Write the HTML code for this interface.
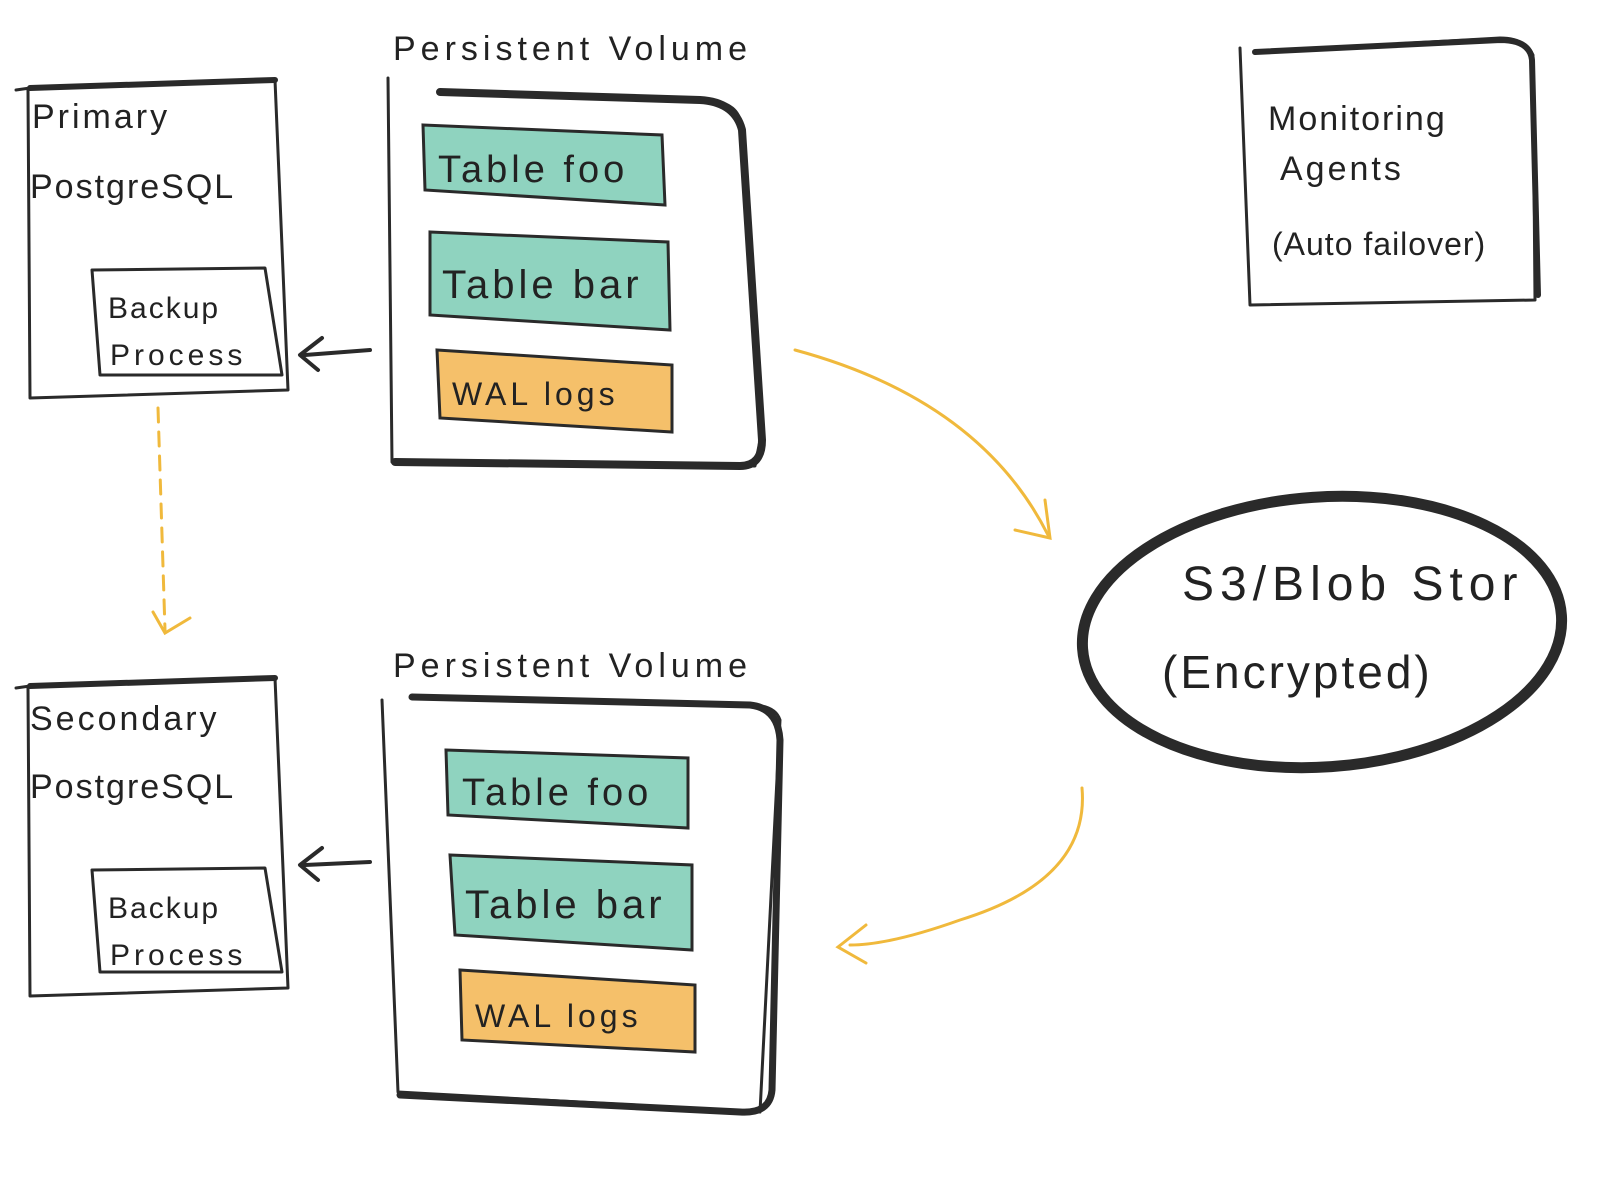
<!DOCTYPE html>
<html><head><meta charset="utf-8"><style>
html,body{margin:0;padding:0;background:#fff;}
svg{display:block}
text{font-family:"Liberation Sans",sans-serif;fill:#222;}
</style></head><body>
<svg width="1600" height="1200" viewBox="0 0 1600 1200" xmlns="http://www.w3.org/2000/svg">
<g fill="none" stroke="#2a2a2a" stroke-linecap="round" stroke-linejoin="round">
<!-- Primary box -->
<path d="M16 90 L30 88 L275 80 L288 390 L30 398 L28 90" stroke-width="3"/>
<path d="M30 88 L275 80" stroke-width="6"/>
<path d="M92 270 L265 268 L282 375 L100 375 Z" stroke-width="3"/>
<!-- Secondary box -->
<path d="M16 688 L30 686 L275 678 L288 988 L30 996 L28 688" stroke-width="3"/>
<path d="M30 686 L275 678" stroke-width="6"/>
<path d="M92 870 L265 868 L282 972 L100 972 Z" stroke-width="3"/>
<!-- PV top -->
<path d="M388 78 L392 462 L755 466 L762 430 L740 120 Q735 100 700 100 L440 92" stroke-width="3"/>
<path d="M440 92 L700 100 Q735 102 742 130 L762 440 Q762 466 740 466 L395 462" stroke-width="8"/>
<!-- PV bottom -->
<path d="M382 700 L398 1092 L760 1112 L780 720 Q775 705 750 705 L412 697" stroke-width="3"/>
<path d="M412 697 L750 705 Q778 708 780 740 L772 1090 Q770 1114 740 1112 L400 1095" stroke-width="7"/>
<!-- Monitoring -->
<path d="M1240 48 L1250 305 L1535 300 L1533 55 Q1525 38 1500 38 L1255 52" stroke-width="3"/>
<path d="M1255 52 L1500 40 Q1530 40 1532 60 L1538 295" stroke-width="6"/>
<!-- S3 ellipse -->
<ellipse cx="1322" cy="632" rx="240" ry="135" transform="rotate(-4 1322 632)" stroke-width="11"/>
<!-- arrows left -->
<path d="M370 350 L305 355 M322 338 L300 355 L318 370" stroke-width="4"/>
<path d="M370 862 L305 865 M322 848 L300 865 L318 880" stroke-width="4"/>
</g>
<!-- colored tables -->
<g stroke="#2a2a2a" stroke-width="3">
<path d="M423 125 L662 135 L665 205 L425 190 Z" fill="#8fd3bf"/>
<path d="M430 232 L668 242 L670 330 L430 315 Z" fill="#8fd3bf"/>
<path d="M437 350 L672 365 L672 432 L440 418 Z" fill="#f5c06a"/>
<path d="M446 750 L688 758 L688 828 L448 815 Z" fill="#8fd3bf"/>
<path d="M450 855 L692 865 L692 950 L455 935 Z" fill="#8fd3bf"/>
<path d="M460 970 L695 985 L695 1052 L462 1040 Z" fill="#f5c06a"/>
</g>
<!-- yellow connectors -->
<g fill="none" stroke="#f0b93c" stroke-width="3" stroke-linecap="round">
<path d="M158 408 L165 630" stroke-dasharray="14 10"/>
<path d="M153 612 L165 633 L190 618"/>
<path d="M795 350 Q980 400 1048 535"/>
<path d="M1015 530 L1050 538 L1045 500"/>
<path d="M1082 788 Q1090 880 960 920 Q890 945 850 945"/>
<path d="M866 925 L838 947 L866 963"/>
</g>
<g font-size="34">
<text x="393" y="60" letter-spacing="5">Persistent  Volume</text>
<text x="393" y="677" letter-spacing="5">Persistent  Volume</text>
<text x="32" y="128" letter-spacing="3">Primary</text>
<text x="30" y="198" letter-spacing="2">PostgreSQL</text>
<text x="30" y="730" letter-spacing="3">Secondary</text>
<text x="30" y="798" letter-spacing="2">PostgreSQL</text>
<text x="108" y="318" font-size="30" letter-spacing="2">Backup</text>
<text x="110" y="365" font-size="30" letter-spacing="4">Process</text>
<text x="108" y="918" font-size="30" letter-spacing="2">Backup</text>
<text x="110" y="965" font-size="30" letter-spacing="4">Process</text>
<text x="438" y="182" font-size="38" letter-spacing="4">Table  foo</text>
<text x="442" y="298" font-size="40" letter-spacing="4">Table  bar</text>
<text x="452" y="405" font-size="32" letter-spacing="4">WAL  logs</text>
<text x="462" y="805" font-size="38" letter-spacing="4">Table  foo</text>
<text x="465" y="918" font-size="40" letter-spacing="4">Table  bar</text>
<text x="475" y="1027" font-size="32" letter-spacing="4">WAL  logs</text>
<text x="1268" y="130" letter-spacing="2">Monitoring</text>
<text x="1280" y="180" letter-spacing="3">Agents</text>
<text x="1272" y="255" font-size="32" letter-spacing="1">(Auto failover)</text>
<text x="1182" y="600" font-size="48" letter-spacing="6">S3/Blob Stor</text>
<text x="1162" y="688" font-size="46" letter-spacing="3">(Encrypted)</text>
</g>
</svg>
</body></html>
